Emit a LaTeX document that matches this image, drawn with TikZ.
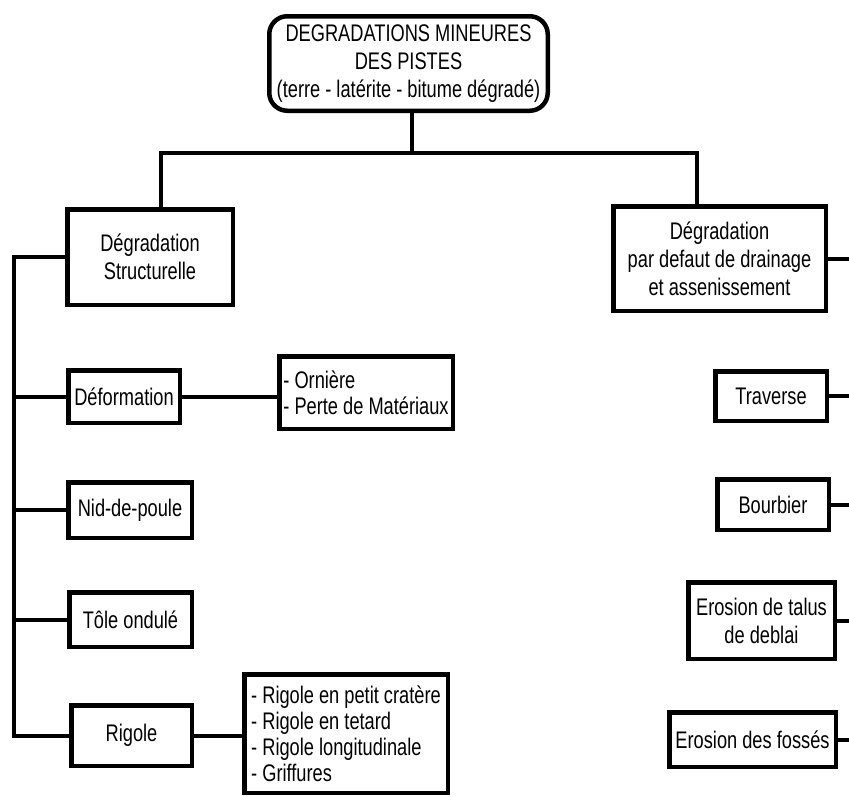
\documentclass[tikz,border=0pt]{standalone}
\usepackage{fontspec}
\setmainfont{Liberation Sans}[FakeStretch=0.76]
\begin{document}
\begin{tikzpicture}[x=1pt,y=-1pt,
  box/.style={draw, line width=4.5pt, align=center, inner sep=0pt, font=\fontsize{24}{28}\selectfont},
  listbox/.style={box, align=left, font=\fontsize{24}{26}\selectfont},
  conn/.style={line width=4pt}]
\useasboundingbox (0,0) rectangle (849,796);

% top
\node[box, rounded corners=18pt, minimum width=278.5pt, minimum height=94.5pt] (top) at (408.5,63.5)
  {DEGRADATIONS MINEURES\\DES PISTES\\(terre - latérite - bitume dégradé)};

% level 2
\node[box, minimum width=165.5pt, minimum height=95.5pt] (ds) at (150,257) {Dégradation\\Structurelle};
\node[box, minimum width=212.5pt, minimum height=104.5pt] (dd) at (719.5,258.5) {Dégradation\\par defaut de drainage\\et assenissement};

% left branch
\node[box, minimum width=111.5pt, minimum height=52.5pt] (def) at (124,396.5) {Déformation};
\node[box, minimum width=123.5pt, minimum height=55.5pt] (nid) at (130,510) {Nid-de-poule};
\node[box, minimum width=122.5pt, minimum height=54.5pt] (tole) at (130.5,619.5) {Tôle ondulé};
\node[box, minimum width=120.5pt, minimum height=60.5pt] (rig) at (131.5,735.5) {Rigole};
\node[listbox, minimum width=173.5pt, minimum height=72.5pt] (orn) at (366,392.5) {- Ornière\\- Perte de Matériaux};
\node[listbox, minimum width=203.5pt, minimum height=118.5pt] (rlist) at (346,733.5)
  {- Rigole en petit cratère\\- Rigole en tetard\\- Rigole longitudinale\\- Griffures};

% right branch
\node[box, minimum width=111.5pt, minimum height=49.5pt] (trav) at (771,396) {Traverse};
\node[box, minimum width=111.5pt, minimum height=50.5pt] (bour) at (773,504.5) {Bourbier};
\node[box, minimum width=146.5pt, minimum height=76.5pt] (talus) at (761.5,620.5) {Erosion de talus\\de deblai};
\node[box, minimum width=166.5pt, minimum height=54.5pt] (foss) at (752.5,739.5) {Erosion des fossés};

% helper coordinates
\coordinate (tc) at (412,153);
\coordinate (bl) at (161,153);
\coordinate (br) at (697,153);
\coordinate (tr) at (14,260);
\coordinate (re) at (852,0);

% connectors
\draw[conn] (tc |- top.south) -- (tc);
\draw[conn] (bl |- ds.north) -- (bl) -- (br) -- (br |- dd.north);
\draw[conn] (ds.west) -- (ds.west -| tr) -- (tr |- rig.west) -- (rig.west);
\draw[conn] (tr |- def.west) -- (def.west);
\draw[conn] (tr |- nid.west) -- (nid.west);
\draw[conn] (tr |- tole.west) -- (tole.west);
\draw[conn] (def.east) -- (def.east -| orn.west);
\draw[conn] (rig.east) -- (rig.east -| rlist.west);

\draw[conn] (dd.east) -- (dd.east -| re);
\draw[conn] (trav.east) -- (trav.east -| re);
\draw[conn] (bour.east) -- (bour.east -| re);
\draw[conn] (talus.east) -- (talus.east -| re);
\draw[conn] (foss.east) -- (foss.east -| re);
\end{tikzpicture}
\end{document}
